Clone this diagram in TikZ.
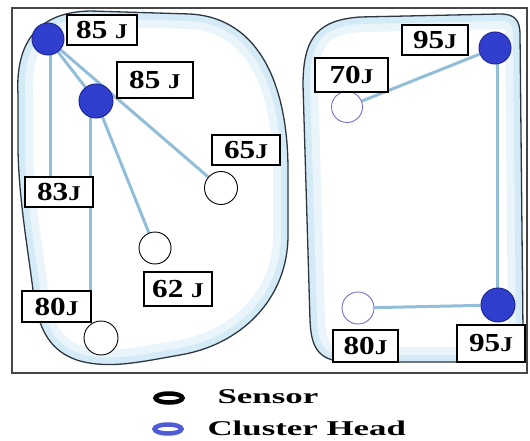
\documentclass[tikz,border=0pt]{standalone}
\usepackage{fontspec}
\setmainfont{Liberation Serif}
\usetikzlibrary{shapes.geometric}

\definecolor{linkblue}{RGB}{146,190,216}
\definecolor{tint}{RGB}{212,234,246}
\definecolor{paletint}{RGB}{234,245,251}
\definecolor{headblue}{RGB}{48,62,205}
\definecolor{headedge}{RGB}{32,42,150}
\definecolor{ringviolet}{RGB}{122,108,212}
\definecolor{framegray}{RGB}{70,70,70}
\definecolor{blobline}{RGB}{45,55,65}

\pgfdeclarelayer{blobs}
\pgfdeclarelayer{links}
\pgfsetlayers{blobs,links,main}

% energy label: digits, then a slightly smaller unit letter
\newcommand\energy[2]{\scalebox{1.2}[1]{\bfseries\fontsize{26}{26}\selectfont #1\fontsize{21}{21}\selectfont #2}}
\newcommand\legtext[1]{\scalebox{1.66}[1]{\bfseries\fontsize{21}{21}\selectfont #1}}

% cluster outlines
\def\leftblob{(18,95) .. controls (15,40) and (40,12) .. (90,11) -- (190,14)
  .. controls (262,18) and (288,90) .. (288,170) -- (288,235)
  .. controls (288,300) and (240,345) .. (180,355)
  .. controls (140,362) and (110,369) .. (80,361)
  .. controls (50,352) and (38,330) .. (33,290)
  .. controls (28,250) and (19,200) .. (18,150) -- cycle}
\def\rightblob{(303,85) .. controls (303,35) and (320,20) .. (360,17) -- (500,14)
  .. controls (515,14) and (520,20) .. (520,35) -- (523,330)
  .. controls (523,355) and (515,362) .. (490,362) -- (350,362)
  .. controls (320,362) and (311,350) .. (310,320) -- cycle}

% white region with a soft blue rim inside its outline
\newcommand\clusterregion[1]{%
  \fill[white] #1;
  \begin{scope}
    \clip #1;
    \draw[paletint,line width=30pt] #1;
    \draw[tint,line width=14pt] #1;
  \end{scope}
  \draw[blobline,line width=1.3pt] #1;}

\begin{document}
\begin{tikzpicture}[x=1pt,y=-1pt,
  head/.style={circle,fill=headblue,draw=headedge,line width=1pt,minimum size=32pt,inner sep=0pt},
  sensor/.style={circle,fill=white,draw=black,line width=0.9pt,minimum size=33pt,inner sep=0pt},
  vsensor/.style={sensor,draw=ringviolet,minimum size=31pt},
  tag/.style={draw=black,fill=white,line width=1.4pt,inner sep=0pt},
  link/.style={draw=linkblue,line width=3pt},
  legring/.style={ellipse,line width=4.5pt,minimum width=27pt,minimum height=9pt,inner sep=0pt,fill=white}]

\useasboundingbox (0,0) rectangle (530,441);

% cluster regions and field frame
\begin{pgfonlayer}{blobs}
  \fill[white] (0,0) rectangle (530,441);
  \clusterregion{\leftblob}
  \clusterregion{\rightblob}
  \draw[framegray,line width=2pt] (12,8) rectangle (527,373);
\end{pgfonlayer}

% left cluster
\node[head] (ch1) at (48,39) {};
\node[head,minimum size=34pt] (ch2) at (96,101) {};
\node[sensor] (s65) at (221,188) {};
\node[sensor,minimum size=32pt] (s62) at (155,248) {};
\node[sensor,minimum size=34pt] (s80l) at (101,338) {};

\node[tag,minimum width=70pt,minimum height=30pt] (t85a) at (102,30) {\energy{85 }{J}};
\node[tag,minimum width=76pt,minimum height=36pt] (t85b) at (155,80) {\energy{85 }{J}};
\node[tag,minimum width=68pt,minimum height=30pt] (t65) at (246,150) {\energy{65}{J}};
\node[tag,minimum width=68pt,minimum height=30pt] (t83) at (59,192) {\energy{83}{J}};
\node[tag,minimum width=68pt,minimum height=34pt] (t62) at (178,289) {\energy{62 }{J}};
\node[tag,minimum width=69pt,minimum height=31pt] (t80l) at (56.5,306.5) {\energy{80}{J}};

% right cluster
\node[head] (chr1) at (495,48) {};
\node[head,minimum size=34pt] (chr2) at (498,305) {};
\node[vsensor] (s70) at (347,107) {};
\node[vsensor,minimum size=32pt] (s80r) at (358,308) {};

\node[tag,minimum width=66pt,minimum height=30pt] (t95a) at (435,40) {\energy{95}{J}};
\node[tag,minimum width=73pt,minimum height=34pt] (t70) at (351.5,75) {\energy{70}{J}};
\node[tag,minimum width=65pt,minimum height=32pt] (t80r) at (365.5,346) {\energy{80}{J}};
\node[tag,minimum width=68pt,minimum height=37pt] (t95b) at (491,343.5) {\energy{95}{J}};

% links to cluster heads
\begin{pgfonlayer}{links}
  \draw[link] (ch1) -- (ch2);
  \draw[link] (ch1) -- (s65);
  \draw[link] ([xshift=2pt]ch1.center) -- ([xshift=2pt]ch1.center |- t83.north);
  \draw[link] (ch2) -- (s62);
  \draw[link] ([xshift=-6pt]ch2.center) -- ([xshift=-6pt]ch2.center |- s80l.north);
  \draw[link] (s70) -- (chr1);
  \draw[link] ([xshift=2pt]chr1.center) -- ([xshift=2pt]chr1.center |- chr2.center);
  \draw[link] (s80r) -- (chr2);
\end{pgfonlayer}

% key
\node[legring,draw=black] (keysensor) at (169,398) {};
\node[legring,draw=headblue!85] (keyhead) at (168,429) {};
\node[anchor=west] (keysensortext) at (214,397) {\legtext{Sensor}};
\node[anchor=west] (keyheadtext) at (204,428) {\legtext{Cluster Head}};
\end{tikzpicture}
\end{document}
